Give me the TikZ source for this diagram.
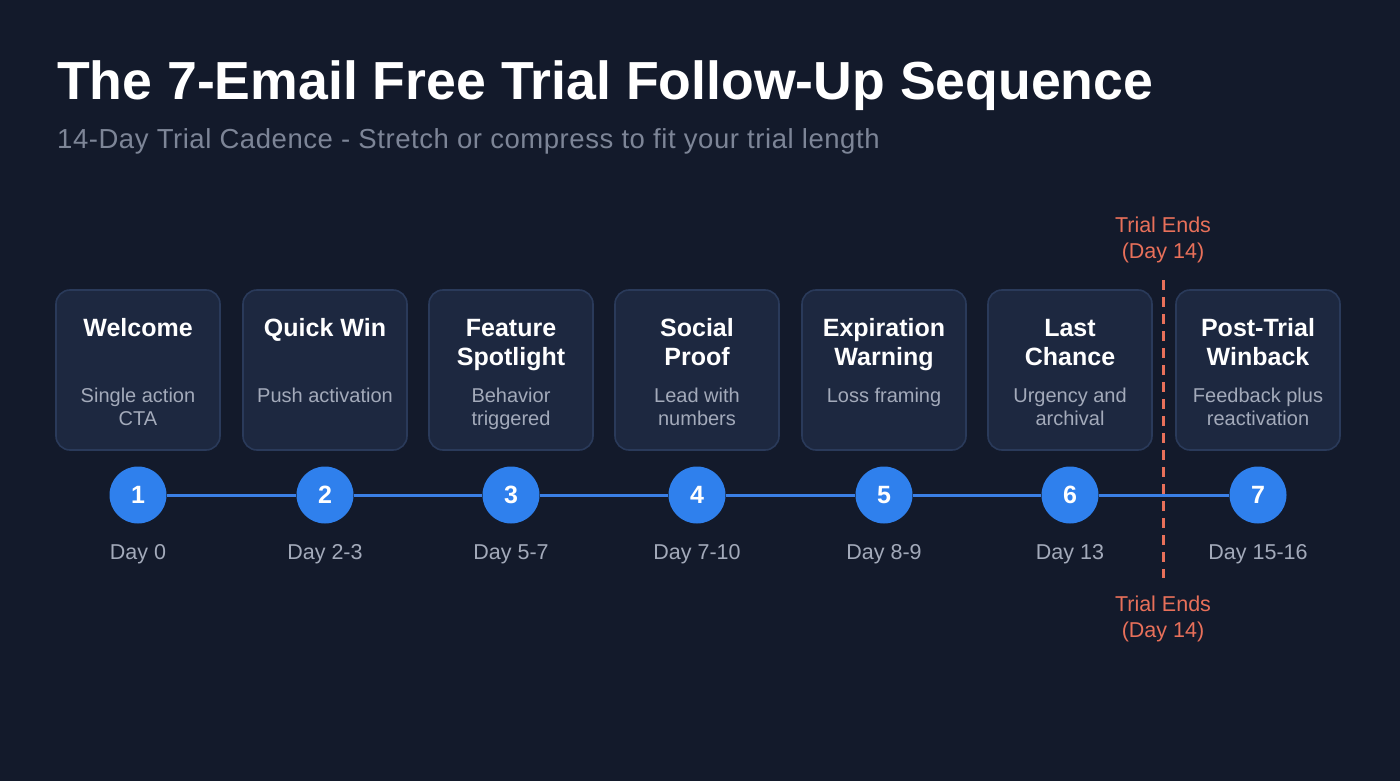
\documentclass[tikz,border=0pt]{standalone}
\usepackage{fontspec}
\setmainfont{Liberation Sans}
\begin{document}
\definecolor{bg}{HTML}{131A2B}
\definecolor{boxfill}{HTML}{1D2840}
\definecolor{boxline}{HTML}{2A3A5A}
\definecolor{blue}{HTML}{2F80ED}
\definecolor{lineblue}{HTML}{3A7FE6}
\definecolor{subgray}{HTML}{7D8597}
\definecolor{descgray}{HTML}{A3AABA}
\definecolor{coral}{HTML}{E8705A}
\begin{tikzpicture}[x=1pt,y=-1pt,
  stepbox/.style={draw=boxline,line width=1.6pt,fill=boxfill,rounded corners=14pt,minimum width=164pt,minimum height=160pt,inner sep=0pt},
  boxtitle/.style={text=white,font=\fontsize{25}{29}\selectfont\bfseries,align=center,anchor=base},
  boxdesc/.style={text=descgray,font=\fontsize{20}{23}\selectfont,align=center,anchor=base},
  num/.style={circle,fill=blue,minimum size=57pt,inner sep=0pt,text=white,font=\fontsize{25}{25}\selectfont\bfseries},
  daylbl/.style={text=descgray,font=\fontsize{21.5}{25}\selectfont,anchor=base},
  trial/.style={text=coral,font=\fontsize{21.5}{26}\selectfont,align=center,anchor=base},
  link/.style={draw=lineblue,line width=3pt}]
\fill[bg] (0,0) rectangle (1400,781);
\useasboundingbox (0,0) rectangle (1400,781);
\node[anchor=base west,text=white,font=\fontsize{53.6}{60}\selectfont\bfseries,inner sep=0pt] (title) at (57,100) {The 7-Email Free Trial Follow-Up Sequence};
\node[anchor=base west,text=subgray,font=\fontsize{27.5}{30}\selectfont\addfontfeature{LetterSpace=2}\relax,inner sep=0pt] (subtitle) at (57,149) {14-Day Trial Cadence - Stretch or compress to fit your trial length};
% boxes
\foreach \i/\x in {1/138,2/325,3/511,4/697,5/884,6/1070,7/1258}{
  \node[stepbox] (b\i) at (\x,370) {};
}
\node[boxtitle] (t1) at (138,336) {Welcome};
\node[boxdesc] (d1) at (138,425) {Single action\\CTA};
\node[boxtitle] (t2) at (325,336) {Quick Win};
\node[boxdesc] (d2) at (325,402) {Push activation};
\node[boxtitle] (t3) at (511,365) {Feature\\Spotlight};
\node[boxdesc] (d3) at (511,425) {Behavior\\triggered};
\node[boxtitle] (t4) at (697,365) {Social\\Proof};
\node[boxdesc] (d4) at (697,425) {Lead with\\numbers};
\node[boxtitle] (t5) at (884,365) {Expiration\\Warning};
\node[boxdesc] (d5) at (884,402) {Loss framing};
\node[boxtitle] (t6) at (1070,365) {Last\\Chance};
\node[boxdesc] (d6) at (1070,425) {Urgency and\\archival};
\node[boxtitle] (t7) at (1258,365) {Post-Trial\\Winback};
\node[boxdesc] (d7) at (1258,425) {Feedback plus\\reactivation};
% circles
\foreach \i/\x in {1/138,2/325,3/511,4/697,5/884,6/1070,7/1258}{
  \node[num] (c\i) at (\x,495) {\i};
}
\foreach \a/\b in {1/2,2/3,3/4,4/5,5/6,6/7}{
  \draw[link] (c\a) -- (c\b);
}
\node[daylbl] (y1) at (138,559) {Day 0};
\node[daylbl] (y2) at (325,559) {Day 2-3};
\node[daylbl] (y3) at (511,559) {Day 5-7};
\node[daylbl] (y4) at (697,559) {Day 7-10};
\node[daylbl] (y5) at (884,559) {Day 8-9};
\node[daylbl] (y6) at (1070,559) {Day 13};
\node[daylbl] (y7) at (1258,559) {Day 15-16};
% trial end
\coordinate (dtop) at (1163,280);
\coordinate (dbot) at (1163,578);
\draw[coral,line width=3pt,dash pattern=on 10pt off 7pt] (dtop) -- (dbot);
\node[trial] (te1) at (1163,258) {Trial Ends\\(Day 14)};
\node[trial] (te2) at (1163,637) {Trial Ends\\(Day 14)};
\end{tikzpicture}
\end{document}
